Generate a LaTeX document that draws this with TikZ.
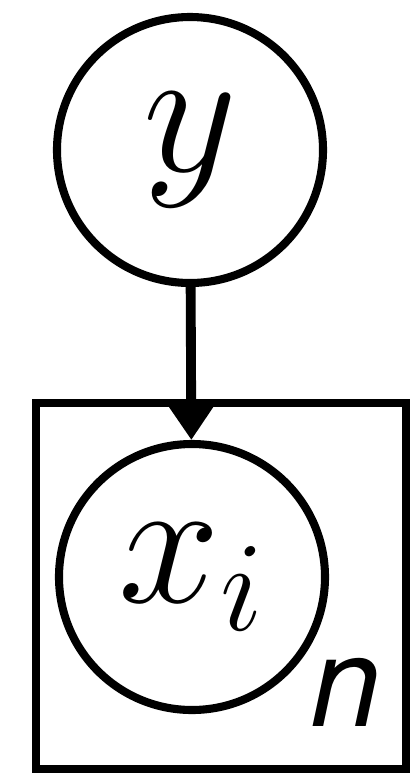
\documentclass[tikz,border=0pt]{standalone}
\usepackage{fix-cm}
\usepackage{amsmath,amssymb}
\usepackage{fontspec}
\newfontfamily\platefont[AutoFakeBold=1.2]{TeX Gyre Heros}
\usetikzlibrary{arrows.meta,positioning}

\begin{document}
\begin{tikzpicture}[x=1cm,y=1cm]
\tikzset{
  varnode/.style={circle,draw,line width=2.3pt,minimum size=2.66cm,inner sep=0pt,font=\fontsize{52}{60}\selectfont},
  platebox/.style={rectangle,draw,line width=2pt,minimum width=3.70cm,minimum height=3.66cm,inner sep=0pt},
  directed/.style={-{Triangle[length=3.3mm,width=4.2mm]},line width=2.8pt}
}
\useasboundingbox (0,0) rectangle (4.16,-7.73);
\node[platebox] (n_plate) at (2.21,-5.86) {};
\node[varnode] (n_y) at (1.90,-1.50) {$y$};
\node[varnode] (n_x) at (1.92,-5.77) {$x_i$};
\node[font=\platefont\bfseries\itshape\fontsize{36}{40}\selectfont] (n_n) at (3.46,-6.92) {n};
\draw[directed] (n_y) -- (n_x);
\end{tikzpicture}
\end{document}
